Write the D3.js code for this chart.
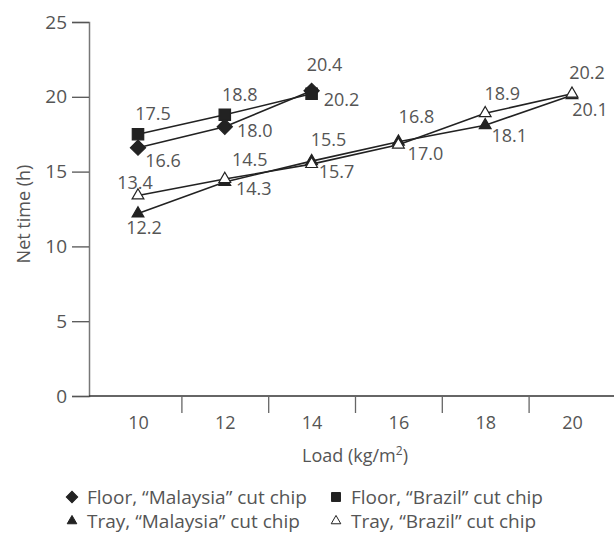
<!DOCTYPE html>
<html>
<head>
<meta charset="utf-8">
<script src="https://cdn.jsdelivr.net/npm/d3@7"></script>
<style>
  body { margin: 0; background: #fff; }
  svg { display: block; }
  text { font-family: "Open Sans", sans-serif; fill: #555; }
</style>
</head>
<body>
<div id="main"></div>
<script>
(function() {
  // chart data
  const loads = [10, 12, 14, 16, 18, 20];
  const floorMalaysia = [16.6, 18.0, 20.4];
  const floorBrazil = [17.5, 18.8, 20.2];
  const trayMalaysia = [12.2, 14.3, 15.7, 17.0, 18.1, 20.1];
  const trayBrazil = [13.4, 14.5, 15.5, 16.8, 18.9, 20.2];
  const yTicks = [0, 5, 10, 15, 20, 25];

  // diamond = square turned 45 degrees
  const series = [
    { name: "Floor, \u201cMalaysia\u201d cut chip", values: floorMalaysia, symbol: d3.symbolSquare, rot: 45, fill: "#222" },
    { name: "Floor, \u201cBrazil\u201d cut chip", values: floorBrazil, symbol: d3.symbolSquare, rot: 0, fill: "#222" },
    { name: "Tray, \u201cMalaysia\u201d cut chip", values: trayMalaysia, symbol: d3.symbolTriangle, rot: 0, fill: "#222" },
    { name: "Tray, \u201cBrazil\u201d cut chip", values: trayBrazil, symbol: d3.symbolTriangle, rot: 0, fill: "#fff" }
  ];

  // where each value label sits relative to its point [dx, dy]
  const labelOffsets = [
    [[25, 13], [30, 4], [13, -26]],
    [[15, -21], [15, -20], [30, 6]],
    [[6, 14], [29, 7], [25, 11], [27, 12], [24, 10], [18, 14]],
    [[-3, -13], [25, -19], [17, -24], [18, -28], [17, -20], [15, -21]]
  ];
  const symbolSizes = [115, 130, 60, 60];

  const width = 614, height = 533;
  const svg = d3.select("#main").append("svg")
    .attr("width", width)
    .attr("height", height);

  const x = d3.scaleLinear().domain([9, 21]).range([94.6, 615.4]);
  const y = d3.scaleLinear().domain([0, 25]).range([396, 22]);

  // y axis
  const yAxis = svg.append("g")
    .attr("transform", "translate(89,0)")
    .call(d3.axisLeft(y).tickValues(yTicks).tickSize(17).tickPadding(5));
  yAxis.select(".domain").attr("stroke", "#777").attr("stroke-width", 1.5);
  yAxis.selectAll(".tick line").attr("stroke", "#555").attr("stroke-width", 1.3);
  yAxis.selectAll("text").attr("font-size", 19).style("fill", "#555");

  // x axis: line, ticks between categories, labels under categories
  svg.append("line")
    .attr("x1", 89).attr("x2", width)
    .attr("y1", y(0)).attr("y2", y(0))
    .attr("stroke", "#333").attr("stroke-width", 1.5);

  const xTicks = svg.append("g")
    .attr("transform", `translate(0,${y(0)})`)
    .call(d3.axisBottom(x).tickValues(d3.range(11, 22, 2)).tickSize(17).tickFormat(""));
  xTicks.select(".domain").remove();
  xTicks.selectAll(".tick line").attr("stroke", "#666").attr("stroke-width", 1.3);

  const xLabels = svg.append("g")
    .attr("transform", `translate(0,${y(0)})`)
    .call(d3.axisBottom(x).tickValues(loads).tickSize(0).tickPadding(20));
  xLabels.select(".domain").remove();
  xLabels.selectAll("text").attr("font-size", 18).style("fill", "#555");

  // axis titles
  svg.append("text")
    .attr("transform", "translate(30,214) rotate(-90)")
    .attr("text-anchor", "middle")
    .attr("font-size", 18)
    .text("Net time (h)");

  const xTitle = svg.append("text")
    .attr("x", 355).attr("y", 462)
    .attr("text-anchor", "middle")
    .attr("font-size", 18);
  xTitle.append("tspan").text("Load (kg/m");
  xTitle.append("tspan").attr("font-size", 12).attr("dy", -7).text("2");
  xTitle.append("tspan").attr("dy", 7).text(")");

  const line = d3.line()
    .x((d, i) => x(loads[i]))
    .y(d => y(d));

  series.forEach(s => {
    svg.append("path")
      .datum(s.values)
      .attr("d", line)
      .attr("fill", "none")
      .attr("stroke", "#222")
      .attr("stroke-width", 1.6);
  });

  series.forEach((s, si) => {
    const g = svg.append("g");
    g.selectAll("path")
      .data(s.values)
      .join("path")
      .attr("transform", (d, i) => `translate(${x(loads[i])},${y(d)}) rotate(${s.rot})`)
      .attr("d", d3.symbol().type(s.symbol).size(symbolSizes[si]))
      .attr("fill", s.fill)
      .attr("stroke", "#222")
      .attr("stroke-width", 1.2);

    g.selectAll("text")
      .data(s.values)
      .join("text")
      .attr("x", (d, i) => x(loads[i]) + labelOffsets[si][i][0])
      .attr("y", (d, i) => y(d) + labelOffsets[si][i][1])
      .attr("dy", "0.35em")
      .attr("text-anchor", "middle")
      .attr("font-size", 18)
      .text(d => d.toFixed(1));
  });

  // legend
  const legendPos = [[72, 497], [336, 497], [72, 521], [336, 521]];
  const legendSizes = [65, 80, 40, 40];
  series.forEach((s, si) => {
    const [lx, ly] = legendPos[si];
    svg.append("path")
      .attr("transform", `translate(${lx},${ly}) rotate(${s.rot})`)
      .attr("d", d3.symbol().type(s.symbol).size(legendSizes[si]))
      .attr("fill", s.fill)
      .attr("stroke", "#222")
      .attr("stroke-width", 1);
    svg.append("text")
      .attr("x", lx + 15)
      .attr("y", ly)
      .attr("dy", "0.35em")
      .attr("font-size", 19)
      .text(s.name);
  });
})();
</script>
</body>
</html>
